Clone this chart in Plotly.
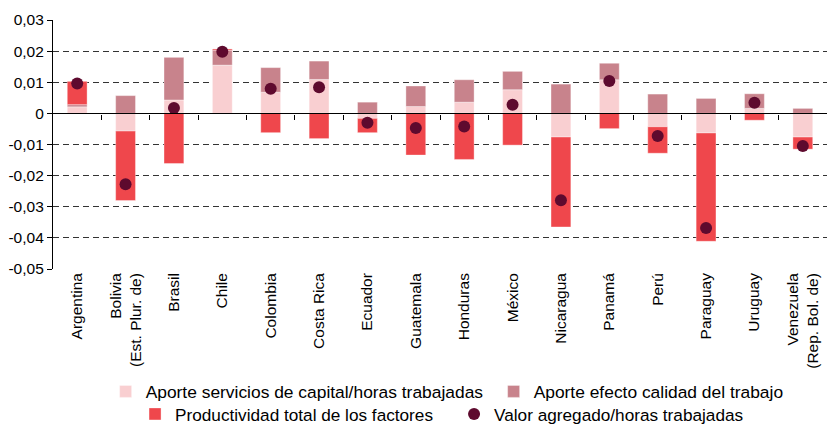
import numpy as np
import plotly.graph_objects as go

countries = ["Argentina", "Bolivia<br>(Est. Plur. de)", "Brasil", "Chile", "Colombia",
             "Costa Rica", "Ecuador", "Guatemala", "Honduras", "México", "Nicaragua",
             "Panamá", "Perú", "Paraguay", "Uruguay", "Venezuela<br>(Rep. Bol. de)"]

capital = [0.0021, -0.0057, 0.0043, 0.0155, 0.0068, 0.0109, -0.0016, 0.0022,
           0.0036, 0.0076, -0.0076, 0.0108, -0.0043, -0.0063, 0.0016, -0.0076]
calidad = [0.0007, 0.0057, 0.0137, 0.0048, 0.0079, 0.0059, 0.0036, 0.0066,
           0.0072, 0.0059, 0.0094, 0.0053, 0.0062, 0.0048, 0.0047, 0.0016]
ptf = [0.0075, -0.0223, -0.0161, 0.0004, -0.0062, -0.0081, -0.0046, -0.0134,
       -0.0148, -0.0102, -0.0289, -0.0049, -0.0085, -0.0348, -0.0022, -0.0039]
valor = [0.0096, -0.0228, 0.0017, 0.0198, 0.0079, 0.0084, -0.0030, -0.0047,
         -0.0042, 0.0028, -0.0279, 0.0104, -0.0073, -0.0368, 0.0034, -0.0105]

y_ticks = [0.03, 0.02, 0.01, 0, -0.01, -0.02, -0.03, -0.04, -0.05]
y_labels = ["0,03", "0,02", "0,01", "0", "-0,01", "-0,02", "-0,03", "-0,04", "-0,05"]

names = ["Aporte servicios de capital/horas trabajadas",
         "Aporte efecto calidad del trabajo",
         "Productividad total de los factores",
         "Valor agregado/horas trabajadas"]

FONT = "Liberation Sans, Arial, sans-serif"
c_cap = "#F9CFD1"
c_cal = "#C8838C"
c_ptf = "#EF474C"
c_val = "#5E0A2E"
edge = dict(color="rgba(255,255,255,0.45)", width=0.8)

n = len(countries)
idx = np.arange(n)

fig = go.Figure()
fig.add_bar(x=countries, y=capital, name=names[0], marker=dict(color=c_cap, line=edge),
            width=0.41, legend="legend", legendwidth=343)
fig.add_bar(x=countries, y=calidad, name=names[1], marker=dict(color=c_cal, line=edge),
            width=0.41, legend="legend")
fig.add_bar(x=countries, y=ptf, name=names[2], marker=dict(color=c_ptf, line=edge),
            width=0.41, legend="legend2", legendwidth=274)
fig.add_scatter(x=idx, y=valor, xaxis="x2", mode="markers", name=names[3],
                marker=dict(color=c_val, size=12, symbol="circle"), legend="legend2")

fig.update_layout(
    width=827, height=424,
    margin=dict(l=53, r=0, t=20, b=155, autoexpand=False),
    barmode="relative",
    plot_bgcolor="white", paper_bgcolor="white",
    font=dict(family=FONT, color="#000", size=15),
    xaxis=dict(type="category", range=[-0.5, n - 0.5], tickangle=-90, automargin=False,
               tickfont=dict(size=15.5, family=FONT), showline=False, ticks="",
               showgrid=False, zeroline=False),
    xaxis2=dict(overlaying="x", anchor="free", position=0.625, range=[-0.5, n - 0.5],
                showline=True, linecolor="#000", linewidth=1.4, automargin=False,
                ticks="outside", ticklen=5, tickwidth=1.2, tickcolor="#000",
                tickvals=[i + 0.5 for i in range(n - 1)], showticklabels=False,
                showgrid=False, zeroline=False, side="bottom"),
    yaxis=dict(range=[-0.05, 0.03], tickvals=y_ticks, ticktext=y_labels, automargin=False,
               tickfont=dict(size=15.5, family=FONT), showline=True, linecolor="#000",
               linewidth=1.2, ticks="outside", ticklen=5, tickcolor="#000",
               showgrid=True, gridcolor="#333", gridwidth=1, griddash="6px,4px",
               zeroline=False),
    legend=dict(orientation="h", x=0.068, xanchor="left", y=-0.42, yanchor="top",
                font=dict(size=17.4, family=FONT), bgcolor="rgba(0,0,0,0)",
                itemclick=False, tracegroupgap=0),
    legend2=dict(orientation="h", x=0.106, xanchor="left", y=-0.511, yanchor="top",
                 font=dict(size=17.2, family=FONT), bgcolor="rgba(0,0,0,0)",
                 itemclick=False, tracegroupgap=0),
    showlegend=True,
)

fig.write_html("out.html", config={"displayModeBar": False},
               post_script="document.body.style.margin='0';document.body.style.overflow='hidden';")
